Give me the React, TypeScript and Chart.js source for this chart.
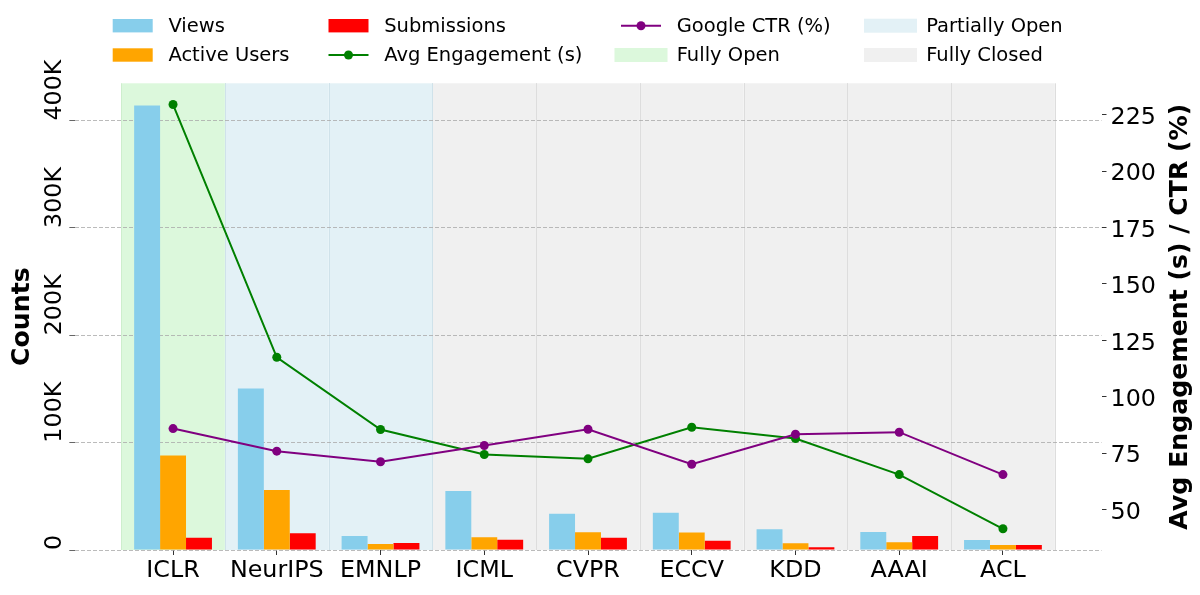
import React, { useEffect, useRef } from "react";
import Chart from "chart.js/auto";

// conferences on the x axis
const categories = ["ICLR", "NeurIPS", "EMNLP", "ICML", "CVPR", "ECCV", "KDD", "AAAI", "ACL"];
// review access level of each conference
const access = [
  "Fully Open",
  "Partially Open",
  "Partially Open",
  "Fully Closed",
  "Fully Closed",
  "Fully Closed",
  "Fully Closed",
  "Fully Closed",
  "Fully Closed",
];

// left axis (counts)
const views = [414000, 150500, 13000, 55000, 33800, 34700, 19300, 16800, 9300];
const activeUsers = [88000, 56000, 5600, 11800, 16500, 16200, 6200, 7200, 4700];
const submissions = [11500, 15500, 6500, 9600, 11500, 8700, 2500, 13000, 4700];

// right axis (seconds / percent)
const avgEngagement = [229.5, 117.5, 85.5, 74.4, 72.5, 86.5, 81.5, 65.5, 41.5];
const googleCtr = [85.9, 75.9, 71.2, 78.4, 85.6, 70.1, 83.4, 84.3, 65.5];

const countTicks = [0, 100000, 200000, 300000, 400000];
const rateTicks = [50, 75, 100, 125, 150, 175, 200, 225];

const FONT = "DejaVu Sans";

const bandFill: Record<string, string> = {
  "Fully Open": "#dcf8dc",
  "Partially Open": "#e3f1f6",
  "Fully Closed": "#f0f0f0",
};
const bandEdge: Record<string, string> = {
  "Fully Open": "#cdeecd",
  "Partially Open": "#cfe2ea",
  "Fully Closed": "#dddddd",
};
// later ones are drawn on top
const edgeOrder = ["Fully Closed", "Fully Open", "Partially Open"];

const fmtCount = (v: number) => (v === 0 ? "0" : `${v / 1000}K`);

const bandsPlugin = {
  id: "accessBands",
  beforeDraw(chart: any) {
    const { ctx, chartArea, scales } = chart;
    const x = scales.x;
    ctx.save();
    categories.forEach((_, i) => {
      const l = x.getPixelForValue(i - 0.5);
      const r = x.getPixelForValue(i + 0.5);
      ctx.fillStyle = bandFill[access[i]];
      ctx.fillRect(l, chartArea.top, r - l, chartArea.bottom - chartArea.top);
    });
    ctx.lineWidth = 1;
    edgeOrder.forEach((level) => {
      categories.forEach((_, i) => {
        if (access[i] !== level) return;
        ctx.strokeStyle = bandEdge[level];
        [i - 0.5, i + 0.5].forEach((v) => {
          const px = Math.round(x.getPixelForValue(v)) + 0.5;
          ctx.beginPath();
          ctx.moveTo(px, chartArea.top);
          ctx.lineTo(px, chartArea.bottom);
          ctx.stroke();
        });
      });
    });
    ctx.restore();
  },
};

// rotated left tick labels, axis titles and the 4-column legend
const decorPlugin = {
  id: "decor",
  afterDraw(chart: any) {
    const { ctx, chartArea, scales } = chart;
    const y = scales.y;
    const midY = (chartArea.top + chartArea.bottom) / 2;
    ctx.save();
    ctx.fillStyle = "#000";

    // left tick labels, rotated, starting at the tick
    ctx.font = `23.8px '${FONT}'`;
    ctx.textAlign = "left";
    ctx.textBaseline = "alphabetic";
    y.ticks.forEach((t: any) => {
      ctx.save();
      ctx.translate(61, y.getPixelForValue(t.value));
      ctx.rotate(-Math.PI / 2);
      ctx.fillText(fmtCount(t.value), 0, 0);
      ctx.restore();
    });

    // axis titles
    ctx.font = `bold 25.2px '${FONT}'`;
    ctx.textAlign = "center";
    ctx.textBaseline = "middle";
    [
      { text: "Counts", x: 22.5 },
      { text: "Avg Engagement (s) / CTR (%)", x: 1180.5 },
    ].forEach((t) => {
      ctx.save();
      ctx.translate(t.x, midY);
      ctx.rotate(-Math.PI / 2);
      ctx.fillText(t.text, 0, 0);
      ctx.restore();
    });

    // legend
    const colX = [112.7, 328.5, 621, 870.5];
    const rowY = [25.7, 55];
    const items = [
      { label: "Views", kind: "bar", color: "#87CEEB" },
      { label: "Active Users", kind: "bar", color: "#FFA500" },
      { label: "Submissions", kind: "bar", color: "#FF0000" },
      { label: "Avg Engagement (s)", kind: "line", color: "#008000" },
      { label: "Google CTR (%)", kind: "line", color: "#800080" },
      { label: "Fully Open", kind: "band", color: bandFill["Fully Open"] },
      { label: "Partially Open", kind: "band", color: bandFill["Partially Open"] },
      { label: "Fully Closed", kind: "band", color: bandFill["Fully Closed"] },
    ];
    ctx.font = `19.5px '${FONT}'`;
    ctx.textAlign = "left";
    ctx.textBaseline = "middle";
    items.forEach((it, k) => {
      const x0 = colX[Math.floor(k / 2)];
      const cy = rowY[k % 2];
      const cx = x0 + 20;
      if (it.kind === "bar") {
        ctx.fillStyle = it.color;
        ctx.fillRect(x0, cy - 6.7, 40, 13.4);
      } else if (it.kind === "band") {
        ctx.fillStyle = it.color;
        ctx.fillRect(cx - 26.5, cy - 7, 53, 14);
      } else {
        ctx.strokeStyle = it.color;
        ctx.lineWidth = 2;
        ctx.beginPath();
        ctx.moveTo(x0, cy);
        ctx.lineTo(x0 + 40, cy);
        ctx.stroke();
        ctx.fillStyle = it.color;
        ctx.beginPath();
        ctx.arc(cx, cy, 4.5, 0, Math.PI * 2);
        ctx.fill();
      }
      ctx.fillStyle = "#000";
      ctx.fillText(it.label, x0 + 55.7, cy + 1);
    });
    ctx.restore();
  },
};

const App: React.FC = () => {
  const canvasRef = useRef<HTMLCanvasElement | null>(null);
  const chartInstance = useRef<Chart | null>(null);

  useEffect(() => {
    if (!canvasRef.current) return;
    if (chartInstance.current) chartInstance.current.destroy();

    const xy = (arr: number[]) => arr.map((v, i) => ({ x: i, y: v }));
    const countMax = Math.max(...views, ...activeUsers, ...submissions) * 1.05;
    const rates = [...avgEngagement, ...googleCtr];
    const rMin = Math.min(...rates);
    const rMax = Math.max(...rates);
    const rPad = (rMax - rMin) * 0.05;

    const barCommon = {
      type: "bar" as const,
      yAxisID: "y",
      categoryPercentage: 0.75,
      barPercentage: 1.0,
      borderWidth: 0,
      order: 3,
    };
    const lineCommon = {
      type: "line" as const,
      yAxisID: "y1",
      borderWidth: 2,
      pointRadius: 4.5,
      pointBorderWidth: 0,
      tension: 0,
    };

    chartInstance.current = new Chart(canvasRef.current, {
      type: "bar",
      data: {
        datasets: [
          { ...barCommon, label: "Views", data: xy(views), backgroundColor: "#87CEEB" },
          { ...barCommon, label: "Active Users", data: xy(activeUsers), backgroundColor: "#FFA500" },
          { ...barCommon, label: "Submissions", data: xy(submissions), backgroundColor: "#FF0000" },
          {
            ...lineCommon,
            label: "Avg Engagement (s)",
            data: xy(avgEngagement),
            borderColor: "#008000",
            backgroundColor: "#008000",
            pointBackgroundColor: "#008000",
            order: 2,
          },
          {
            ...lineCommon,
            label: "Google CTR (%)",
            data: xy(googleCtr),
            borderColor: "#800080",
            backgroundColor: "#800080",
            pointBackgroundColor: "#800080",
            order: 1,
          },
        ] as any,
      },
      options: {
        animation: false,
        responsive: true,
        maintainAspectRatio: false,
        devicePixelRatio: 1,
        events: [],
        layout: { padding: { top: 83.3, left: 0, right: 0, bottom: 0 } },
        plugins: { legend: { display: false }, tooltip: { enabled: false } },
        scales: {
          x: {
            type: "linear",
            min: -0.95,
            max: categories.length - 1 + 0.95,
            offset: false,
            border: { display: false },
            grid: {
              offset: false,
              drawOnChartArea: false,
              drawTicks: true,
              tickLength: 5,
              tickColor: "#333",
            },
            afterBuildTicks: (s: any) => {
              s.ticks = categories.map((_, i) => ({ value: i }));
            },
            afterFit: (s: any) => {
              s.height = 45;
            },
            ticks: {
              autoSkip: false,
              maxRotation: 0,
              padding: 2,
              color: "#000",
              font: { family: FONT, size: 23.8 },
              callback: (v: any) => categories[Number(v)] ?? "",
            },
          },
          y: {
            type: "linear",
            position: "left",
            min: 0,
            max: countMax,
            border: { display: false, dash: [4, 2] },
            grid: {
              color: "rgba(170,170,170,0.8)",
              lineWidth: 1,
              drawTicks: true,
              tickLength: 5,
              tickColor: "#333",
              tickBorderDash: [1, 0],
            },
            afterBuildTicks: (s: any) => {
              s.ticks = countTicks.map((v) => ({ value: v }));
            },
            afterFit: (s: any) => {
              s.width = 74.5;
            },
            ticks: { display: false },
          },
          y1: {
            type: "linear",
            position: "right",
            min: rMin - rPad,
            max: rMax + rPad,
            border: { display: false },
            grid: {
              drawOnChartArea: false,
              drawTicks: true,
              tickLength: 5,
              tickColor: "#333",
            },
            afterBuildTicks: (s: any) => {
              s.ticks = rateTicks.map((v) => ({ value: v }));
            },
            afterFit: (s: any) => {
              s.width = 98.5;
            },
            ticks: {
              padding: 4,
              labelOffset: 3,
              color: "#000",
              font: { family: FONT, size: 23.8 },
            },
          },
        },
      } as any,
      plugins: [bandsPlugin, decorPlugin],
    });

    return () => {
      if (chartInstance.current) {
        chartInstance.current.destroy();
        chartInstance.current = null;
      }
    };
  }, []);

  return (
    <div
      style={{
        position: "absolute",
        left: 0,
        top: 0,
        width: 1200,
        height: 595,
        background: "#fff",
      }}
    >
      <canvas ref={canvasRef} />
    </div>
  );
};

export default App;
